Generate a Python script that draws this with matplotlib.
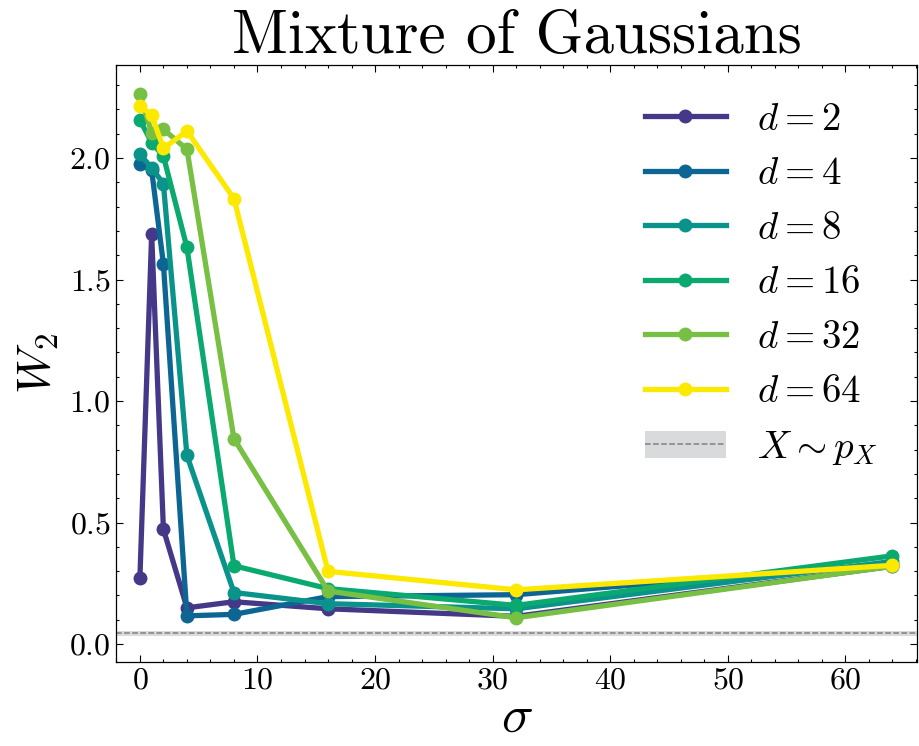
import numpy as np
import matplotlib
matplotlib.use("Agg")
import matplotlib.pyplot as plt
from matplotlib.ticker import MultipleLocator

plt.rcParams['font.family'] = 'serif'
plt.rcParams['font.serif'] = ['cmr10']
plt.rcParams['mathtext.fontset'] = 'cm'
plt.rcParams['axes.formatter.use_mathtext'] = True

# sigma values on x axis
sigma = [0, 1, 2, 4, 8, 16, 32, 64]

# W2 per dimension
w2_d2 = [0.272, 1.687, 0.472, 0.149, 0.174, 0.145, 0.114, 0.32]
w2_d4 = [1.974, 1.95, 1.563, 0.116, 0.122, 0.195, 0.203, 0.33]
w2_d8 = [2.015, 1.960, 1.894, 0.776, 0.212, 0.166, 0.145, 0.34]
w2_d16 = [2.157, 2.063, 2.008, 1.632, 0.322, 0.228, 0.159, 0.363]
w2_d32 = [2.262, 2.104, 2.118, 2.036, 0.845, 0.218, 0.108, 0.32]
w2_d64 = [2.215, 2.177, 2.040, 2.111, 1.833, 0.299, 0.223, 0.324]

dims = [2, 4, 8, 16, 32, 64]
series = [w2_d2, w2_d4, w2_d8, w2_d16, w2_d32, w2_d64]
colors = ['#453888', '#0d6593', '#0a938a', '#0aa970', '#77c043', '#fde800']

# reference level X ~ p_X
ref_mean = 0.045
ref_lo = 0.035
ref_hi = 0.055

fig = plt.figure(figsize=(9.19, 7.46), dpi=100)
ax = fig.add_axes([0.126, 0.1126, 0.872, 0.8003])

for d, vals, c in zip(dims, series, colors):
    ax.plot(sigma, vals, '-o', color=c, lw=3.8, ms=9, label=rf'$d = {d}$')

band = ax.axhspan(ref_lo, ref_hi, color='#d5d6d8', alpha=0.9, lw=0)
ref_line = ax.axhline(ref_mean, color='gray', ls='--', lw=1.1)

ax.set_xlim(-2.05, 66.1)
ax.set_ylim(-0.074, 2.383)
ax.xaxis.set_major_locator(MultipleLocator(10))
ax.xaxis.set_minor_locator(MultipleLocator(2))
ax.yaxis.set_major_locator(MultipleLocator(0.5))
ax.yaxis.set_minor_locator(MultipleLocator(0.1))
ax.tick_params(which='both', direction='in', top=True, right=True, labelsize=23, width=0.8)
ax.tick_params(which='major', length=5)
ax.tick_params(which='minor', length=2.5)
for s in ax.spines.values():
    s.set_linewidth(0.9)

ax.set_xlabel(r'$\sigma$', fontsize=38, labelpad=0)
ax.set_ylabel(r'$W_2$', fontsize=34, labelpad=6)
ax.set_title('Mixture of Gaussians', fontsize=44, pad=8)

handles, labels = ax.get_legend_handles_labels()
handles.append((band, ref_line))
labels.append(r'$X \sim p_X$')
ax.legend(handles, labels, loc='upper right', frameon=False, fontsize=28,
          numpoints=1, handlelength=2.1, labelspacing=0.48, handletextpad=0.8,
          bbox_to_anchor=(0.995, 0.997))

fig.savefig('out.png', dpi=100)
